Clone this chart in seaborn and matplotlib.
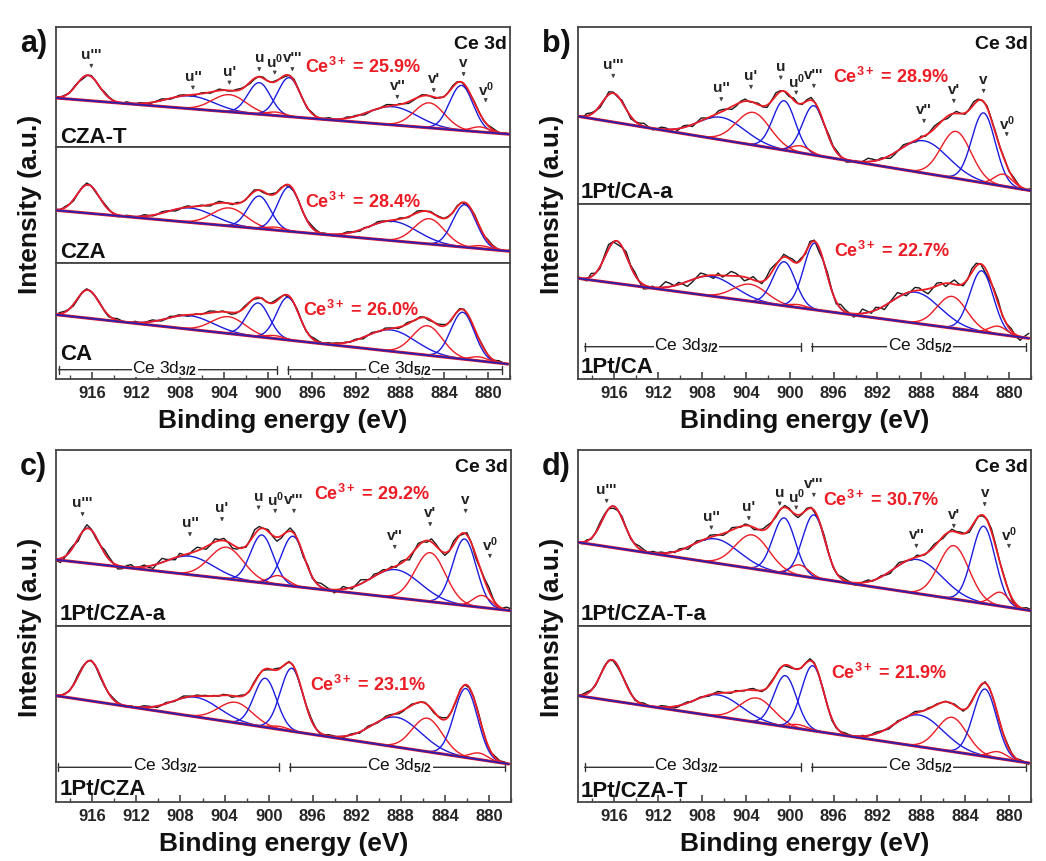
import numpy as np
import matplotlib
matplotlib.use("Agg")
import matplotlib.pyplot as plt
import seaborn as sns

sns.set_theme(style="ticks")
plt.rcParams["font.family"] = ["Liberation Sans", "DejaVu Sans"]
plt.rcParams["font.weight"] = "bold"
plt.rcParams["mathtext.fontset"] = "custom"
plt.rcParams["mathtext.rm"] = "Liberation Sans:bold"
plt.rcParams["mathtext.bf"] = "Liberation Sans:bold"
plt.rcParams["mathtext.it"] = "Liberation Sans"
plt.rcParams["mathtext.default"] = "rm"

W, H = 1046, 862
XLEFT, XRIGHT = 919.3, 878.2
BLUE = "#1c1ce0"
RED = "#ec1c24"

# peak names, colours (blue = Ce4+, red = Ce3+) and widths (FWHM, eV)
peak_names = ["u'''", "u''", "u'", "u", "u$^0$", "v'''", "v''", "v'", "v", "v$^0$"]
peak_colors = [BLUE, BLUE, RED, BLUE, RED, BLUE, BLUE, RED, BLUE, RED]
peak_fwhm = [2.4, 5.0, 3.6, 2.4, 2.0, 2.4, 5.2, 3.2, 2.5, 1.9]

# deviation of measured points from the fit (read roughly, in units of the noise level)
noise = [0.2, 0.5, -0.1, 0.4, 0.9, 0.3, -0.4, 0.1, 0.6, -0.2, -0.7, 0.0, 0.5, 0.8, 0.2,
         -0.3, 0.4, -0.6, -0.2, 0.3, 0.7, 0.1, -0.5, -0.9, -0.2, 0.4, 0.0, 0.6, 1.0, 0.3,
         -0.3, 0.2, -0.4, -0.8, -0.1, 0.5, 0.2, 0.7, -0.2, -0.6, 0.1, 0.8, 0.4, -0.3, 0.0,
         0.6, -0.5, -0.1, 0.3, 0.9, 0.2, -0.7, -0.3, 0.4, 0.1, -0.2, 0.6, 0.3, -0.5, -0.8,
         0.0, 0.5, 0.7, -0.1, -0.4, 0.2, 0.8, 0.1, -0.6, 0.3, 0.5, -0.2, -0.9, -0.3, 0.4,
         0.6, 0.0, -0.5, 0.2, 0.9, 0.4, -0.1, -0.7, 0.1, 0.5, -0.3, 0.3, 0.8, -0.2, -0.6,
         0.0, 0.4, 0.7, -0.4, 0.1, 0.6, -0.1, -0.8, 0.2, 0.5, -0.3, 0.3, 0.0, 0.4]

# ---- panel a ----
cza_t_centers = [916.4, 907.1, 903.6, 900.9, 899.4, 898.2, 888.8, 885.5, 882.6, 880.9]
cza_t_amps = [25.3, 12.8, 17.2, 31.6, 3.5, 39.0, 18.2, 25.0, 45.0, 5.0]
cza_t_base = [49.0, 12.7]
cza_centers = [916.4, 907.1, 903.6, 900.9, 899.4, 898.2, 888.8, 885.5, 882.3, 880.8]
cza_amps = [28.4, 14.4, 18.0, 32.6, 3.0, 44.3, 19.4, 25.3, 42.5, 3.0]
cza_base = [52.7, 11.7]
ca_centers = [916.4, 907.1, 903.6, 900.9, 899.4, 898.2, 888.8, 885.5, 882.3, 880.8]
ca_amps = [28.2, 13.6, 16.8, 33.8, 3.0, 42.7, 21.3, 29.5, 46.8, 4.0]
ca_base = [64.3, 15.0]

# ---- panel b ----
pt_ca_a_centers = [916.1, 906.3, 903.4, 900.6, 899.1, 897.9, 887.9, 885.0, 882.5, 880.7]
pt_ca_a_amps = [29.0, 22.5, 32.7, 49.4, 7.0, 49.3, 32.3, 47.0, 70.0, 12.0]
pt_ca_a_base = [87.7, 13.3]
pt_ca_centers = [915.8, 907.1, 903.6, 900.5, 899.2, 897.7, 888.5, 885.2, 882.5, 881.0]
pt_ca_amps = [42.6, 19.7, 17.0, 44.0, 3.0, 66.7, 31.0, 31.7, 61.2, 8.0]
pt_ca_base = [100.7, 40.7]

# ---- panel c ----
pt_cza_a_centers = [916.4, 907.2, 903.9, 900.7, 899.2, 897.9, 888.6, 885.5, 882.4, 880.8]
pt_cza_a_amps = [35.0, 18.5, 31.6, 47.8, 9.0, 50.0, 28.1, 49.0, 66.5, 12.0]
pt_cza_a_base = [66.3, 15.3]
pt_cza_centers = [916.2, 906.6, 903.0, 900.3, 899.0, 897.9, 888.4, 885.6, 882.1, 880.9]
pt_cza_amps = [40.2, 19.5, 20.5, 49.0, 3.0, 63.0, 29.8, 33.5, 69.0, 6.5]
pt_cza_base = [106.3, 38.0]

# ---- panel d ----
pt_czat_a_centers = [916.1, 906.8, 903.5, 900.6, 899.2, 897.9, 888.5, 885.2, 882.5, 881.0]
pt_czat_a_amps = [41.5, 24.2, 33.7, 55.5, 10.8, 63.0, 34.0, 53.4, 77.3, 13.8]
pt_czat_a_base = [83.7, 15.3]
pt_czat_centers = [916.2, 906.5, 903.0, 900.4, 899.2, 897.9, 888.2, 885.2, 882.2, 881.0]
pt_czat_amps = [41.0, 21.7, 24.4, 51.0, 4.0, 65.0, 31.6, 34.2, 67.4, 6.7]
pt_czat_base = [106.3, 39.0]

# peak label positions in the top spectrum of each panel
label_x_a = [916.1, 906.9, 903.6, 900.9, 899.5, 897.9, 888.4, 885.1, 882.4, 880.4]
label_h_a = [93, 71.3, 76.3, 89.7, 86.3, 89.7, 62, 68.7, 84.7, 58.7]
label_x_b = [916.1, 906.3, 903.6, 900.9, 899.5, 897.9, 887.9, 885.2, 882.5, 880.4]
label_h_b = [140, 116.7, 129, 138.3, 123.3, 130, 95, 115, 125, 81.7]
label_x_c = [916.9, 907.2, 904.3, 901.0, 899.5, 897.8, 888.7, 885.5, 882.3, 880.1]
label_h_c = [123.7, 103.7, 118.7, 130.3, 127, 127, 91, 113.7, 127, 82]
label_x_d = [916.7, 907.2, 903.8, 901.0, 899.5, 897.9, 888.6, 885.2, 882.4, 880.2]
label_h_d = [137, 110.3, 119.7, 134.3, 130.3, 143, 92, 112, 133.7, 92]

ce3_values = {"CZA-T": "25.9", "CZA": "28.4", "CA": "26.0", "1Pt/CA-a": "28.9", "1Pt/CA": "22.7",
              "1Pt/CZA-a": "29.2", "1Pt/CZA": "23.1", "1Pt/CZA-T-a": "30.7", "1Pt/CZA-T": "21.9"}


def spectrum(name, centers, amps, base, noise_amp, shift, ce3_pos, name_pos):
    return dict(name=name, centers=centers, amps=amps, base=base, noise_amp=noise_amp,
                shift=shift, ce3_pos=ce3_pos, name_pos=name_pos)


panels = [
    dict(letter="a)", x=(56, 510), rows=[(28, 148), (148, 264), (264, 380)],
         labels=(label_x_a, label_h_a), bracket=(9.3, (919.05, 899.2), (898.2, 878.7)),
         spectra=[spectrum("CZA-T", cza_t_centers, cza_t_amps, cza_t_base, 1.8, 0, (896.8, 81), (918.95, 4.7)),
                  spectrum("CZA", cza_centers, cza_amps, cza_base, 2.0, 17, (896.8, 62.3), (918.95, 6)),
                  spectrum("CA", ca_centers, ca_amps, ca_base, 2.0, 40, (896.8, 70), (918.95, 20))]),
    dict(letter="b)", x=(578, 1031), rows=[(28, 205), (205, 380)],
         labels=(label_x_b, label_h_b), bracket=(32.3, (918.7, 899.0), (898.0, 878.5)),
         spectra=[spectrum("1Pt/CA-a", pt_ca_a_centers, pt_ca_a_amps, pt_ca_a_base, 3.4, 9, (896.2, 128.3), (919.1, 6.7)),
                  spectrum("1Pt/CA", pt_ca_centers, pt_ca_amps, pt_ca_base, 5.5, 55, (896.0, 129), (919.1, 6.7))]),
    dict(letter="c)", x=(56, 511), rows=[(451, 627), (627, 803)],
         labels=(label_x_c, label_h_c), bracket=(34.7, (919.1, 899.1), (898.1, 878.5)),
         spectra=[spectrum("1Pt/CZA-a", pt_cza_a_centers, pt_cza_a_amps, pt_cza_a_base, 4.5, 30, (896.0, 133), (918.95, 7)),
                  spectrum("1Pt/CZA", pt_cza_centers, pt_cza_amps, pt_cza_base, 2.0, 70, (896.2, 118), (918.95, 8))]),
    dict(letter="d)", x=(578, 1031), rows=[(451, 627), (627, 803)],
         labels=(label_x_d, label_h_d), bracket=(34.7, (918.7, 899.0), (898.0, 878.5)),
         spectra=[spectrum("1Pt/CZA-T-a", pt_czat_a_centers, pt_czat_a_amps, pt_czat_a_base, 3.0, 85, (897.1, 127), (919.1, 7)),
                  spectrum("1Pt/CZA-T", pt_czat_centers, pt_czat_amps, pt_czat_base, 2.0, 22, (896.2, 129.7), (919.1, 6.3))]),
]


def fit_curves(sp, e):
    left, right = sp["base"]
    base = np.interp(e, [XRIGHT, XLEFT], [right, left])
    comps = [a * np.exp(-4 * np.log(2) * ((e - c) / w) ** 2)
             for c, a, w in zip(sp["centers"], sp["amps"], peak_fwhm)]
    return base, comps


fig = plt.figure(figsize=(W / 100, H / 100), dpi=100)
fine = np.linspace(XRIGHT, XLEFT, 700)
grid = np.linspace(XRIGHT, XLEFT, len(noise))

for panel in panels:
    x0, x1 = panel["x"]
    nrows = len(panel["rows"])
    for i, ((y0, y1), sp) in enumerate(zip(panel["rows"], panel["spectra"])):
        ax = fig.add_axes([x0 / W, 1 - y1 / H, (x1 - x0) / W, (y1 - y0) / H])
        ax.set_facecolor("white")

        base, comps = fit_curves(sp, fine)
        gbase, gcomps = fit_curves(sp, grid)
        measured = gbase + np.sum(gcomps, axis=0) + sp["noise_amp"] * np.roll(noise, sp["shift"])
        sns.lineplot(x=grid, y=measured, color="#1a1a1a", lw=1.0, ax=ax, sort=False,
                     estimator=None, legend=False, zorder=2)
        for comp, col in zip(comps, peak_colors):
            sns.lineplot(x=fine, y=base + comp, color=col, lw=1.0, ax=ax, sort=False,
                         estimator=None, legend=False, zorder=3)
        sns.lineplot(x=fine, y=base + np.sum(comps, axis=0), color=RED, lw=1.3, ax=ax,
                     sort=False, estimator=None, legend=False, zorder=4)
        sns.lineplot(x=fine, y=base, color=RED, lw=2.2, ax=ax, sort=False,
                     estimator=None, legend=False, zorder=5)
        sns.lineplot(x=fine, y=base, color="#2a1fb0", lw=1.3, ax=ax, sort=False,
                     estimator=None, legend=False, zorder=6)

        ax.set_xlim(XLEFT, XRIGHT)
        ax.set_ylim(0, y1 - y0)
        ax.set_yticks([])
        ax.set_xlabel("")
        ax.set_ylabel("")
        for s in ax.spines.values():
            s.set_color("#444444")
            s.set_linewidth(1.3)

        ax.text(sp["name_pos"][0], sp["name_pos"][1], sp["name"], ha="left", va="baseline",
                fontsize=16, color="#111111")
        cx, cy = sp["ce3_pos"]
        ax.text(cx, cy, "Ce$^{3+}$ = " + ce3_values[sp["name"]] + "%", ha="left", va="center",
                fontsize=13, color=RED)

        if i == 0:
            ax.annotate("Ce 3d", xy=(1, 1), xycoords="axes fraction", xytext=(-2, -6),
                        textcoords="offset points", ha="right", va="top", fontsize=14,
                        color="#111111")
            lx, lh = panel["labels"]
            for name, px, ph in zip(peak_names, lx, lh):
                ax.text(px, ph, name, ha="center", va="center", fontsize=11, color="#222222")
                ax.annotate("", xy=(px, ph - 17), xytext=(px, ph - 8),
                            arrowprops=dict(arrowstyle="-|>", lw=0.7, color="#444444",
                                            mutation_scale=5))

        if i == nrows - 1:
            ax.set_xticks(np.arange(880, 917, 4))
            ax.set_xticks(np.arange(878, 920, 2), minor=True)
            ax.tick_params(axis="x", which="major", direction="in", length=5, width=1.2,
                           labelsize=12, pad=4, color="#444444")
            ax.tick_params(axis="x", which="minor", direction="in", length=3, width=1.0,
                           color="#444444")
            bh, (la, lb), (ra, rb) = panel["bracket"]
            for a_, b_ in [(la, lb), (ra, rb)]:
                ax.annotate("", xy=(b_, bh), xytext=(a_, bh),
                            arrowprops=dict(arrowstyle="|-|", lw=1.0, color="#333333",
                                            mutation_scale=3, shrinkA=0, shrinkB=0))
            for tx, sub in [(909.4, "3/2"), (888.1, "5/2")]:
                ax.text(tx, bh + 2.5, "Ce 3d$\\mathit{_{" + sub + "}}$", ha="center", va="center",
                        fontsize=12.5, fontweight="normal", color="#111111",
                        bbox=dict(facecolor="white", edgecolor="none", pad=0.3))
        else:
            ax.set_xticks([])
            ax.tick_params(axis="x", which="both", bottom=False, labelbottom=False)

    yc = (panel["rows"][0][0] + panel["rows"][-1][1]) / 2
    fig.text((x0 - 26) / W, 1 - yc / H, "Intensity (a.u.)", rotation=90, ha="center",
             va="center", fontsize=19, color="#111111")
    fig.text((x0 + x1) / 2 / W, 1 - (panel["rows"][-1][1] + 41) / H, "Binding energy (eV)",
             ha="center", va="center", fontsize=19, color="#111111")
    fig.text((x0 - 36) / W, 1 - (panel["rows"][0][0] + 16) / H, panel["letter"],
             ha="left", va="center", fontsize=22, color="#111111")

fig.savefig("out.png", dpi=100)
